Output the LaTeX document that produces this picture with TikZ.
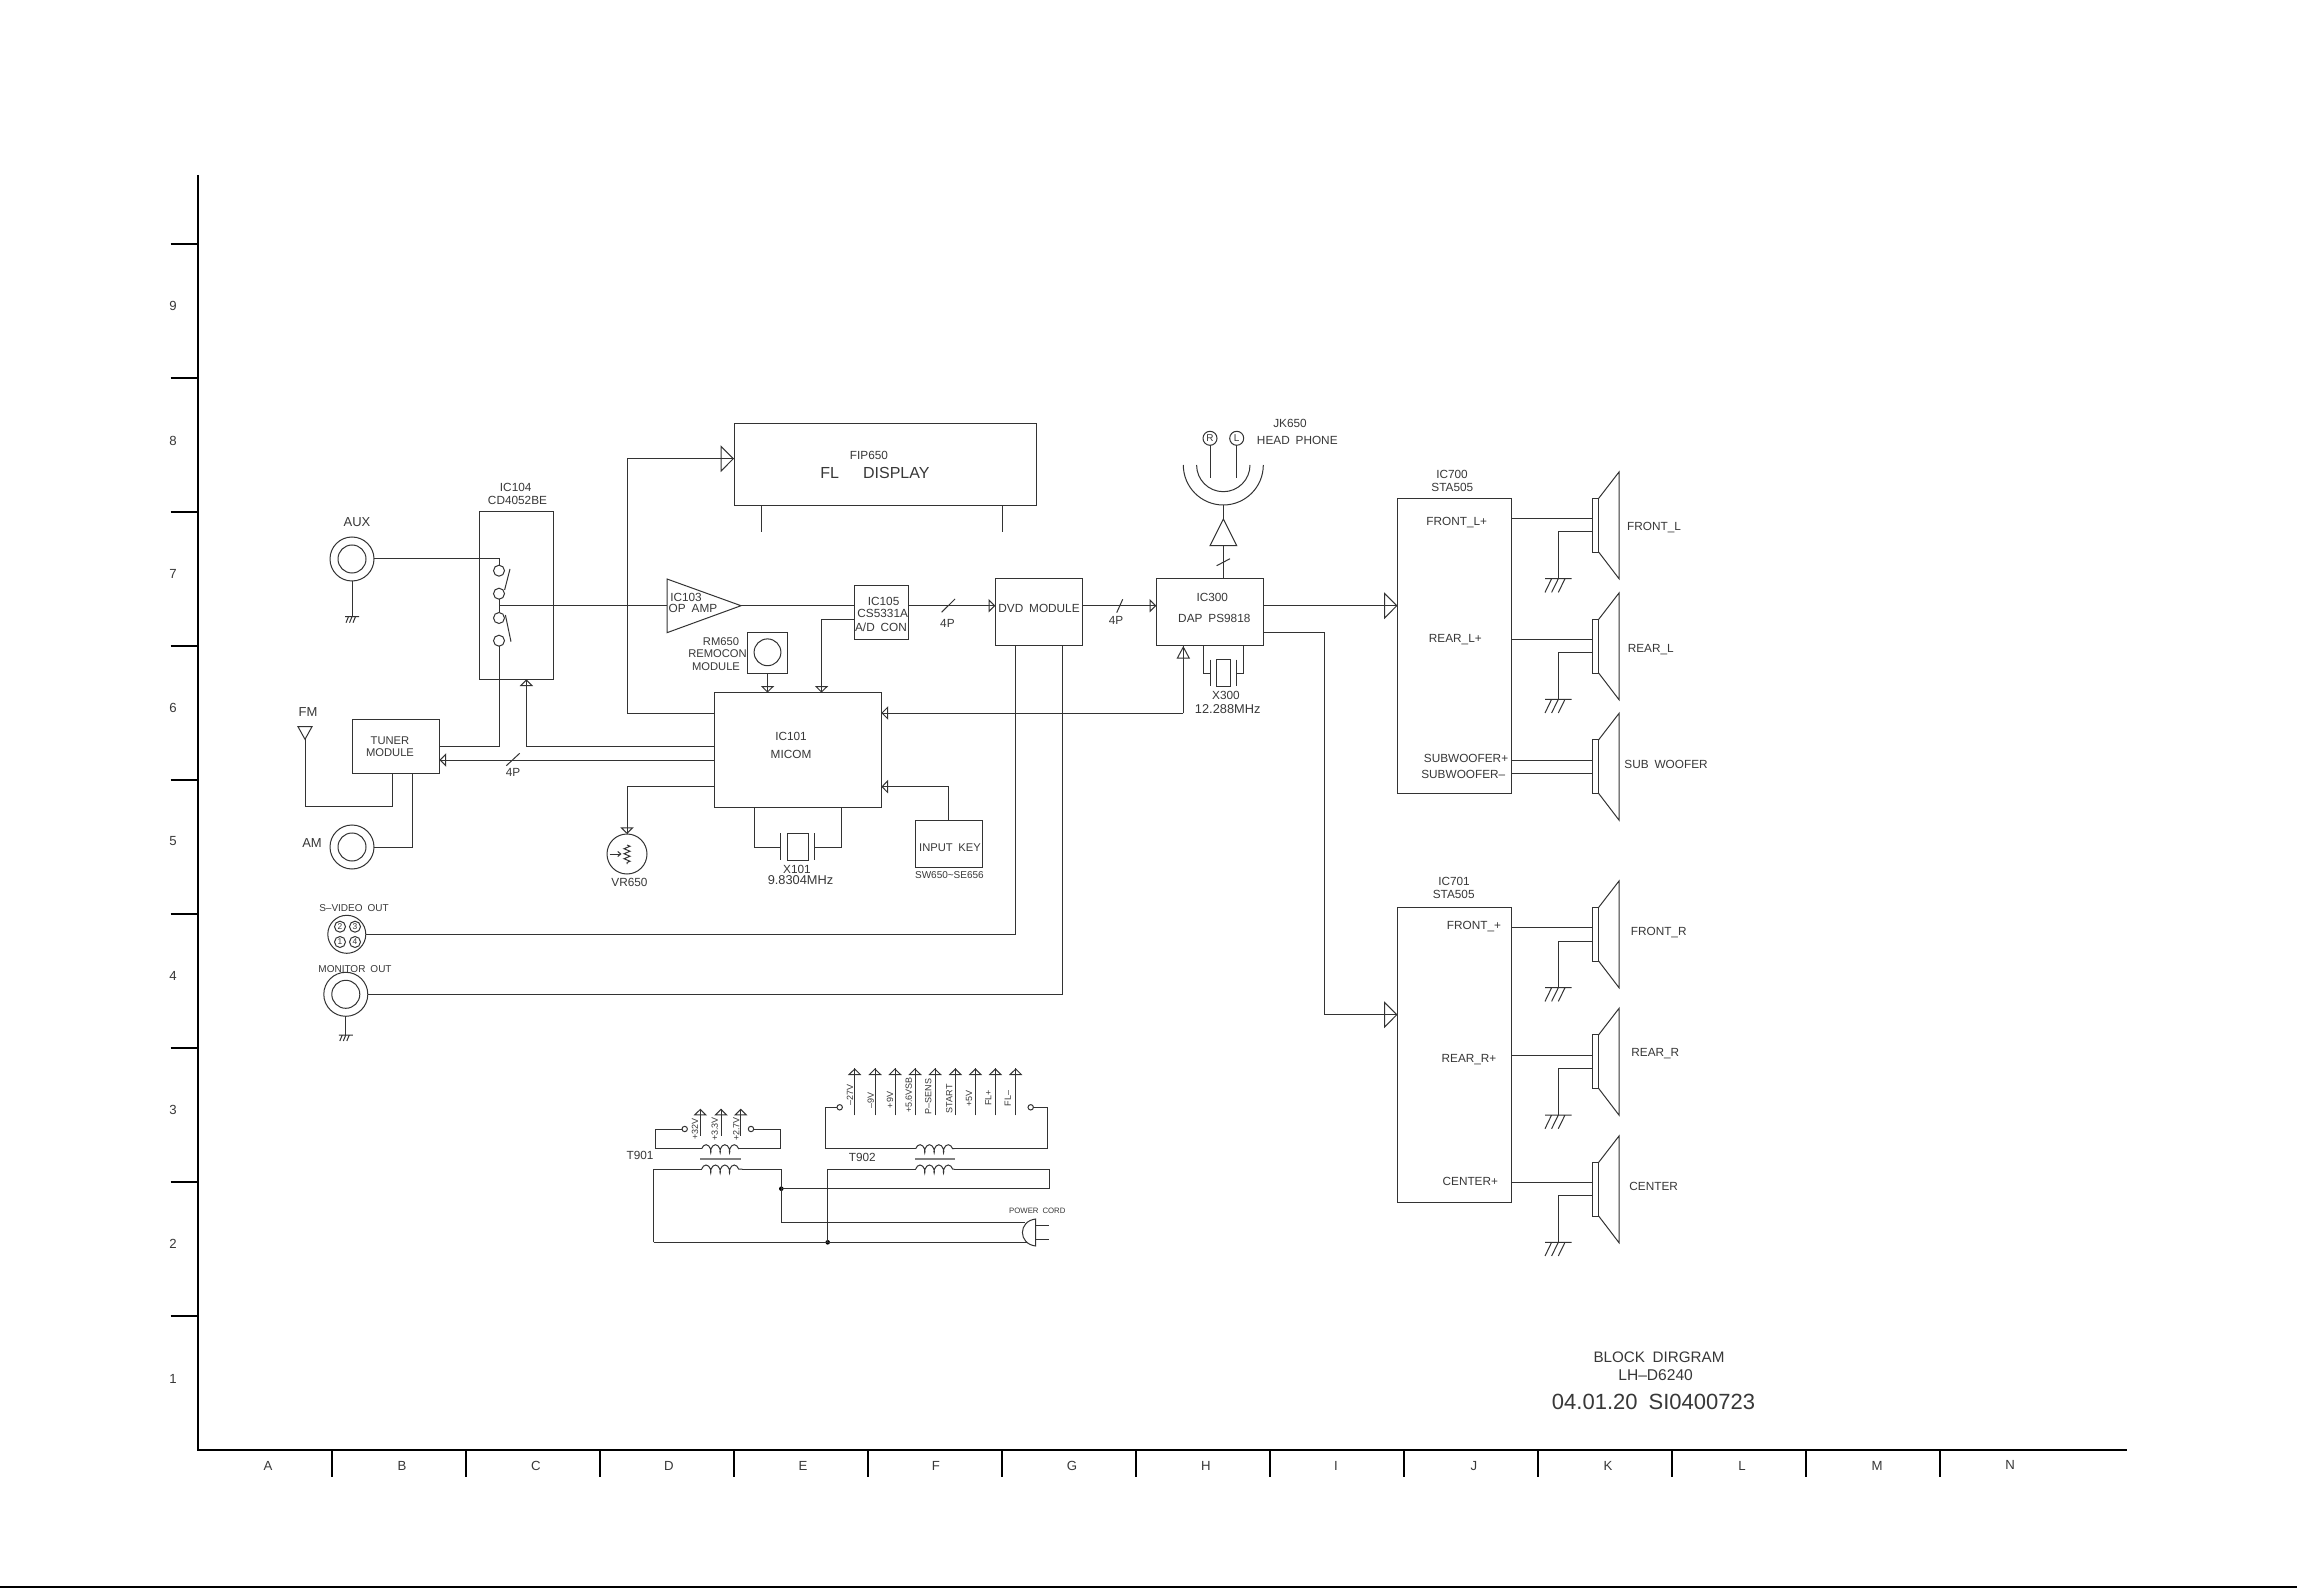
\documentclass[tikz,border=0pt]{standalone}
\usepackage{fontspec}
\setmainfont[WordSpace=1.8]{Liberation Sans}
\usetikzlibrary{arrows.meta,decorations.pathmorphing,calc}
\definecolor{ink}{gray}{0.2}
\definecolor{txt}{gray}{0.22}
\tikzset{
  wire/.style={draw=ink,line width=0.5pt},
  box/.style={rectangle,draw=ink,line width=0.5pt,inner sep=0pt,outer sep=0pt},
  rnd/.style={circle,draw=ink,line width=0.5pt,inner sep=0pt,outer sep=0pt},
  frame/.style={draw=black,line width=1pt},
  st/.style={-{Triangle[open,length=3.35pt,width=6.65pt,line width=0.5pt]}},
  bt/.style={-{Triangle[open,length=6.65pt,width=13.3pt,line width=0.5pt]}},
  qt/.style={-{Triangle[open,length=6.3pt,width=6.65pt,line width=0.5pt]}},
  tx/.style={inner sep=0pt,outer sep=0pt,text depth=0pt,text=txt,font=\fontsize{5.9}{6}\selectfont},
  tm/.style={tx,font=\fontsize{5.6}{6}\selectfont},
  tw/.style={tx,font=\fontsize{6.4}{7}\selectfont},
  tl/.style={tx,font=\fontsize{6.5}{7}\selectfont},
  tb/.style={tx,font=\fontsize{8}{9}\selectfont},
  ts/.style={tx,font=\fontsize{5}{5}\selectfont},
  tf/.style={tx,font=\fontsize{6.6}{7}\selectfont},
  rotl/.style={tx,rotate=90,font=\fontsize{4.5}{5}\selectfont},
  coilw/.style={wire,decorate,decoration={coil,amplitude=2pt,segment length=4.7pt}},
  dotn/.style={circle,fill=black,inner sep=0pt,outer sep=0pt,minimum size=2.3pt},
}
\newcommand{\blk}[5]{\node[box,minimum width={(#4-#2)*0.5pt},minimum height={(#5-#3)*0.5pt}] (#1) at ({(#2+#4)/2},{(#3+#5)/2}) {};}
\newcommand{\cir}[4]{\node[rnd,minimum size={#4*1pt}] (#1) at (#2,#3) {};}
\newcommand{\jack}[5]{\node[rnd,minimum size={#4*1pt}] (#1) at (#2,#3) {};\draw[wire] (#1.center) circle[radius=#5];}
% wire ending in a tip: the line runs through the open triangle
\newcommand{\wtip}[5]{\draw[wire] #3 #4 -- #5;\draw[wire,#1] ($#5!#2!#4$) -- #5;}
\newcommand{\wst}[3]{\wtip{st}{3.6pt}{#1}{#2}{#3}}
\newcommand{\wbt}[3]{\wtip{bt}{7pt}{#1}{#2}{#3}}
\newcommand{\gndb}[2]{\draw[wire] (#1-13.3,#2) -- (#1+13.3,#2) (#1-6.7,#2) -- (#1-13.3,#2+13.7) (#1,#2) -- (#1-6.7,#2+13.7) (#1+6.7,#2) -- (#1,#2+13.7);}
\newcommand{\gnds}[2]{\draw[wire] (#1-7,#2) -- (#1+7,#2) (#1-3.5,#2) -- (#1-6,#2+6) (#1,#2) -- (#1-2.5,#2+6) (#1+3.5,#2) -- (#1+1,#2+6);}
\newcommand{\spk}[2]{\blk{#1}{1592.3}{#2}{1598.7}{#2+53.8}
  \draw[wire] (#1.north east) -- (1619,#2-26.3) -- (1619,#2+80.4) -- (#1.south east);}
\begin{document}
\begin{tikzpicture}[x=0.5pt,y=-0.5pt]
\useasboundingbox (0,0) rectangle (2297,1588);
\fill[white] (0,0) rectangle (2297,1588);
% ---- frame
\draw[frame] (198,175) -- (198,1450) -- (2127,1450);
\foreach \k in {0,...,8}{\draw[frame] (170.7,243.7+134*\k) -- (198,243.7+134*\k);}
\foreach \k in {0,...,12}{\draw[frame] (332+134*\k,1450) -- (332+134*\k,1477);}
\draw[line width=0.8pt] (0,1587) -- (2297,1587);
\foreach \d/\yy in {9/306,8/441,7/574,6/708,5/841,4/976,3/1110,2/1244,1/1379}{\node[tf] (row\d) at (173,\yy) {\d};}
\foreach \d/\xx/\yy in {A/268/1466,B/402/1466,C/536/1466,D/669/1466,E/803/1466,F/936/1466,G/1072/1466,H/1206/1466,I/1336/1466,J/1474/1466,K/1608/1466,L/1742/1466,M/1877/1466,N/2010/1465}{\node[tf] (col\d) at (\xx,\yy) {\d};}
\node[tb,font=\fontsize{7.6}{8}\selectfont] (title1) at (1659,1357) {BLOCK DIRGRAM};
\node[tb,font=\fontsize{7.8}{8}\selectfont] (title2) at (1655.6,1374.7) {LH--D6240};
\node[tb,font=\fontsize{11}{11}\selectfont] (title3) at (1653.5,1402) {04.01.20 SI0400723};
% ---- blocks
\blk{fip}{734}{424}{1036}{505.3}
\blk{icsw}{479.6}{511.7}{553}{679.3}
\blk{tuner}{352}{719.3}{439.4}{773.3}
\blk{icad}{854.6}{585.3}{908.6}{639.3}
\blk{rm}{747.4}{632.3}{787.6}{673.3}
\blk{micom}{714}{692.7}{881.3}{807}
\blk{inkey}{915}{820.3}{982}{867.3}
\blk{dvd}{995.3}{578.7}{1082.7}{646}
\blk{dap}{1156.3}{578.7}{1263.7}{646}
\blk{ampa}{1397.5}{498.3}{1511.7}{793.3}
\blk{ampb}{1397.5}{907.3}{1511.7}{1202.3}
% ---- block texts
\node[tx] (tfip) at (869,455) {FIP650};
\node[tb] (tfl) at (875,473) {FL\ \ \ DISPLAY};
\node[tx] (tsw1) at (515.7,487.3) {IC104};
\node[tx] (tsw2) at (517.5,500) {CD4052BE};
\node[tl] (taux) at (357,522) {AUX};
\node[tx] (top1) at (686,597.7) {IC103};
\node[tx] (top2) at (693,608) {OP AMP};
\node[tx] (tad1) at (883.6,601.7) {IC105};
\node[tx] (tad2) at (882.7,613.7) {CS5331A};
\node[tx] (tad3) at (881,627.3) {A/D CON};
\node[tm] (trm1) at (721,641.7) {RM650};
\node[tm] (trm2) at (717.5,654) {REMOCON};
\node[tm] (trm3) at (716,666.7) {MODULE};
\node[tx] (tmi1) at (791,736.7) {IC101};
\node[tx] (tmi2) at (791,754) {MICOM};
\node[tm] (ttu1) at (390,740.7) {TUNER};
\node[tm] (ttu2) at (390,752.7) {MODULE};
\node[tl] (tfm) at (308,712.3) {FM};
\node[tl] (tam) at (312,842.7) {AM};
\node[tx] (t4pa) at (513,772.7) {4P};
\node[tx] (t4pb) at (947.4,623.3) {4P};
\node[tx] (t4pc) at (1116,620.3) {4P};
\node[tx] (tvr) at (629.5,882.7) {VR650};
\node[tx] (tx1a) at (797,869.3) {X101};
\node[tw] (tx1b) at (800.5,880.3) {9.8304MHz};
\node[tm] (tik) at (950,847.7) {INPUT KEY};
\node[ts] (tsw) at (949.4,874.7) {SW650\textasciitilde SE656};
\node[ts] (tsv) at (354,908.3) {S--VIDEO OUT};
\node[ts] (tmo) at (355,968.7) {MONITOR OUT};
\node[tx] (tdvd) at (1039,608.3) {DVD MODULE};
\node[tx] (tdp1) at (1212.3,597.3) {IC300};
\node[tx] (tdp2) at (1214.3,618) {DAP PS9818};
\node[tx] (tx3a) at (1226,695.3) {X300};
\node[tw] (tx3b) at (1227.7,709.3) {12.288MHz};
\node[tx] (tjk1) at (1290,423.3) {JK650};
\node[tx] (tjk2) at (1297.3,440.7) {HEAD PHONE};
\node[tx] (tia1) at (1452,474.3) {IC700};
\node[tx] (tia2) at (1452.3,487.3) {STA505};
\node[tx] (tia3) at (1456.7,521) {FRONT\_L+};
\node[tx] (tia4) at (1455.3,638.7) {REAR\_L+};
\node[tx] (tia5) at (1466,758.3) {SUBWOOFER+};
\node[tx] (tia6) at (1463.3,774) {SUBWOOFER--};
\node[tx] (tib1) at (1454,881) {IC701};
\node[tx] (tib2) at (1453.7,894.7) {STA505};
\node[tx] (tib3) at (1474,925) {FRONT\_+};
\node[tx] (tib4) at (1469,1058) {REAR\_R+};
\node[tx] (tib5) at (1470.3,1181) {CENTER+};
\node[tx] (tsp1) at (1654,526.7) {FRONT\_L};
\node[tx] (tsp2) at (1650.7,648.7) {REAR\_L};
\node[tx] (tsp3) at (1666,764) {SUB WOOFER};
\node[tx] (tsp4) at (1658.7,931.3) {FRONT\_R};
\node[tx] (tsp5) at (1655.3,1052) {REAR\_R};
\node[tx] (tsp6) at (1653.7,1186) {CENTER};
% ---- FL pins
\coordinate (pin1) at (761,532);\coordinate (pin2) at (1002,532);
\draw[wire] (fip.south -| pin1) -- (pin1) (fip.south -| pin2) -- (pin2);
% ---- jacks and antenna
\jack{aux}{352}{559}{22}{14}
\jack{am}{352}{847}{22}{14}
\jack{mon}{345.8}{994.3}{22}{14}
\coordinate (auxg) at (352,616.7);
\draw[wire] (aux.south) -- (auxg);\gnds{352}{616.7}
\coordinate (mong) at (345.8,1035);
\draw[wire] (mon.south) -- (mong);\gnds{345.8}{1035}
\node[rnd,minimum size=19pt] (sv) at (346.8,934.3) {};
\foreach \n/\xx/\yy in {2/340/926.7,3/355/926.7,1/340/942,4/355/942}{\node[rnd,minimum size=5.5pt,font=\fontsize{4.2}{4}\selectfont,text=txt] (sv\n) at (\xx,\yy) {\n};}
\coordinate (ant) at (305,739.3);
\draw[wire] (298,726.7) -- (312,726.7) -- (ant) -- cycle;
% ---- switch
\foreach \n/\yy in {1/570.7,2/593.7,3/618,4/640.7}{\cir{c\n}{499}{\yy}{5.5}}
\draw[wire] (510,569) -- (504.6,590) (505.4,615) -- (511,641.7);
\draw[wire] (aux.east) -- (499,559) -- (c1.north);
\draw[wire] (c2.south) -- (c3.north);
\draw[wire] (c4.south) -- (499,746.7) -- (tuner.east |- 0,746.7);
% ---- op amp
\coordinate (opin) at (667,605.7);\coordinate (opout) at (741,605.7);
\draw[wire] (667,579) -- (opout) -- (667,632.7) -- cycle;
\draw[wire] (499,605.7) -- (opin);
\draw[wire] (opout) -- (icad.west |- opout);
% ---- main signal path
\wst{}{(icad.east |- opout)}{(dvd.west |- opout)}
\draw[wire] (941.6,612.3) -- (955,599);
\wst{}{(dvd.east |- opout)}{(dap.west |- opout)}
\draw[wire] (1116.7,612.7) -- (1122.7,599.3);
\wbt{}{(dap.east |- opout)}{(ampa.west |- opout)}
\coordinate (bb) at (1324,1014.7);
\wbt{(dap.east |- 0,632.7) -- (1324,632.7) --}{(bb)}{(ampb.west |- bb)}
% ---- MICOM links
\coordinate (fa) at (627,458.7);
\wbt{(micom.west |- 0,713) -- (627,713) --}{(fa)}{(fip.west |- fa)}
\coordinate (ada) at (821.5,619.3);
\wst{(icad.west |- ada) --}{(ada)}{(ada |- micom.north)}
\cir{rmc}{767.5}{652.3}{13.4}
\wst{}{(rm.south)}{(rm.south |- micom.north)}
\coordinate (swa) at (526.4,746.7);
\wst{(micom.west |- swa) --}{(swa)}{(swa |- icsw.south)}
\coordinate (tua) at (600,760);
\wst{}{(micom.west |- tua)}{(tuner.east |- tua)}
\draw[wire] (506.3,765.7) -- (519.7,753.3);
\coordinate (fma) at (392.5,806.7);
\draw[wire] (ant) -- (305,806.7) -- (fma) -- (fma |- tuner.south);
\coordinate (ama) at (412.6,847);
\draw[wire] (am.east) -- (ama) -- (ama |- tuner.south);
\coordinate (dpa) at (1183.3,713);
\wst{}{(dpa)}{(micom.east |- dpa)}
\draw[wire] (dpa) -- (dpa |- dap.south);
\draw[wire,qt] (1183.3,659.5) -- (dpa |- dap.south);
\coordinate (ika) at (948.4,786.7);
\wst{(inkey.north -| ika) --}{(ika)}{(micom.east |- ika)}
% ---- VR
\cir{vr}{627}{854}{20}
\coordinate (vra) at (627,786.7);
\wst{(micom.west |- vra) --}{(vra)}{(vr.north)}
\draw[wire,->,>={Straight Barb[length=1.5pt,width=2.5pt]}] (609.5,854) -- (621.5,854);
\draw[wire,decorate,decoration={zigzag,amplitude=1.5pt,segment length=2.5pt}] (627,845) -- (627,864);
% ---- crystals
\coordinate (xa1) at (754.5,847);\coordinate (xa2) at (841,847);
\draw[wire] (xa1 |- micom.south) -- (xa1) -- (780.4,847);
\draw[wire] (780.4,833) -- (780.4,860) (814.4,833) -- (814.4,860);
\blk{xa}{787.6}{833.3}{808}{860}
\draw[wire] (814.4,847) -- (xa2) -- (xa2 |- micom.south);
\coordinate (xb1) at (1203.3,673.3);\coordinate (xb2) at (1243.3,673.3);
\draw[wire] (xb1 |- dap.south) -- (xb1) -- (1210,673.3);
\draw[wire] (1210,659.7) -- (1210,686) (1236.7,659.7) -- (1236.7,686);
\blk{xb}{1216.7}{659.3}{1230}{686.7}
\draw[wire] (1236.7,673.3) -- (xb2) -- (xb2 |- dap.south);
% ---- outputs
\coordinate (sva) at (1015.7,934.3);\coordinate (moa) at (1062.5,994.3);
\draw[wire] (sv.east) -- (sva) -- (sva |- dvd.south);
\draw[wire] (mon.east) -- (moa) -- (moa |- dvd.south);
% ---- head phone
\coordinate (hpa) at (1223.3,545.7);
\draw[wire] (hpa |- dap.north) -- (hpa);
\draw[wire] (1210,545.7) -- (1236.7,545.7) -- (1223.3,519) -- cycle;
\draw[wire] (1223.3,519) -- (1223.3,505);
\draw[wire] (1216.7,565.7) -- (1230,558.7);
\draw[wire] (1183.3,465) .. controls (1183.3,487.1) and (1201.2,505) .. (1223.3,505) .. controls (1245.4,505) and (1263.3,487.1) .. (1263.3,465);
\draw[wire] (1196.6,465) .. controls (1196.6,479.75) and (1208.55,491.7) .. (1223.3,491.7) .. controls (1238.05,491.7) and (1250,479.75) .. (1250,465);
\node[rnd,minimum size=7pt,font=\fontsize{5}{5}\selectfont,text=txt] (hpr) at (1210,438.3) {R};
\node[rnd,minimum size=7pt,font=\fontsize{5}{5}\selectfont,text=txt] (hpl) at (1236.7,438.3) {L};
\draw[wire] (hpr.south) -- (1210,478.3) (hpl.south) -- (1236.7,478.3);
% ---- speakers
\spk{sa}{498.3}\spk{sb}{619.3}\spk{sc}{739.7}\spk{sd}{907.3}\spk{se}{1034.7}\spk{sf}{1162.3}
\draw[wire] (ampa.east |- 0,518.7) -- (sa.west |- 0,518.7);
\draw[wire] (sa.west |- 0,532) -- (1558.3,532) -- (1558.3,578.7);\gndb{1558.3}{578.7}
\draw[wire] (ampa.east |- 0,639.3) -- (sb.west |- 0,639.3);
\draw[wire] (sb.west |- 0,652.7) -- (1558.3,652.7) -- (1558.3,699.3);\gndb{1558.3}{699.3}
\draw[wire] (ampa.east |- 0,760) -- (sc.west |- 0,760);
\draw[wire] (ampa.east |- 0,773.3) -- (sc.west |- 0,773.3);
\draw[wire] (ampb.east |- 0,927.7) -- (sd.west |- 0,927.7);
\draw[wire] (sd.west |- 0,941) -- (1558.3,941) -- (1558.3,987.7);\gndb{1558.3}{987.7}
\draw[wire] (ampb.east |- 0,1055) -- (se.west |- 0,1055);
\draw[wire] (se.west |- 0,1068.3) -- (1558.3,1068.3) -- (1558.3,1115);\gndb{1558.3}{1115}
\draw[wire] (ampb.east |- 0,1182.3) -- (sf.west |- 0,1182.3);
\draw[wire] (sf.west |- 0,1195.7) -- (1558.3,1195.7) -- (1558.3,1242.3);\gndb{1558.3}{1242.3}
% ---- power: T901
\node[tx] (tt1) at (640,1155.7) {T901};
\cir{oa}{684.7}{1129}{2.7}\cir{ob}{751}{1129}{2.7}
\draw[wire] (oa.west) -- (655,1129) -- (655,1148.7) -- (701.7,1148.7);
\draw[coilw] (701.7,1148.7) -- (739,1148.7);
\draw[wire] (739,1148.7) -- (780.3,1148.7) -- (780.3,1129) -- (ob.east);
\draw[wire,line width=0.9pt,draw=gray] (700.3,1158.7) -- (740.7,1158.7);
\foreach \xx/\lab/\lx in {700.3/+32V/695,721/+3.3V/714.7,740.7/+2.7V/736.3}{
  \wtip{st}{3.6pt}{}{(\xx,1135.7)}{(\xx,1108.7)}
  \node[rotl] (a\lx) at (\lx,1129) {\lab};}
\node[dotn] (da) at (781.3,1188.7) {};
\node[dotn] (db) at (827.7,1242.3) {};
\draw[wire] (653.7,1242.3) -- (653.7,1169) -- (701.7,1169);
\draw[coilw] (701.7,1169) -- (742.3,1169);
\draw[wire] (742.3,1169) -- (781.3,1169) -- (da.center) -- (781.3,1222.3);
% ---- plug
\coordinate (pla) at (1025,1222.3);\coordinate (plb) at (1027,1242.3);
\draw[wire] (1035.7,1219) .. controls (1018,1221) and (1018,1244) .. (1035.7,1246) -- cycle;
\draw[wire] (1035.7,1225.7) -- (1049.3,1225.7) (1035.7,1239) -- (1049.3,1239);
\node[ts,font=\fontsize{3.9}{4}\selectfont] (tpc) at (1037.3,1210.3) {POWER CORD};
\draw[wire] (781.3,1222.3) -- (pla);
\draw[wire] (653.7,1242.3) -- (db.center) -- (plb);
% ---- power: T902
\node[tx] (tt2) at (862.3,1157) {T902};
\cir{oc}{839.7}{1107.3}{2.7}\cir{od}{1030.7}{1107.3}{2.7}
\draw[wire] (oc.west) -- (825,1107.3) -- (825,1148.7) -- (915.7,1148.7);
\draw[coilw] (915.7,1148.7) -- (954.3,1148.7);
\draw[wire] (954.3,1148.7) -- (1047.3,1148.7) -- (1047.3,1107.3) -- (od.east);
\draw[wire,line width=0.9pt,draw=gray] (915,1158.7) -- (955.3,1158.7);
\draw[wire] (da.center) -- (1049.3,1188.7) -- (1049.3,1169) -- (954.3,1169);
\draw[coilw] (915.7,1169) -- (954.3,1169);
\draw[wire] (915.7,1169) -- (827.7,1169) -- (db.center);
\foreach \xx/\lab/\lx/\ly in {854.7/{--27V}/850/1095,875/{--9V}/870.7/1100,895/{+9V}/890/1100,915/{+5.6VSB}/908.7/1095,935/{P--SENS}/928.3/1096.7,955.3/START/949.3/1098.7,975.3/{+5V}/969/1098.3,995.3/{FL+}/988.3/1097.7,1015.7/{FL--}/1007.7/1098.3}{
  \wtip{st}{3.6pt}{}{(\xx,1115.3)}{(\xx,1068.3)}
  \node[rotl] (b\lx) at (\lx,\ly) {\lab};}
\end{tikzpicture}
\end{document}
